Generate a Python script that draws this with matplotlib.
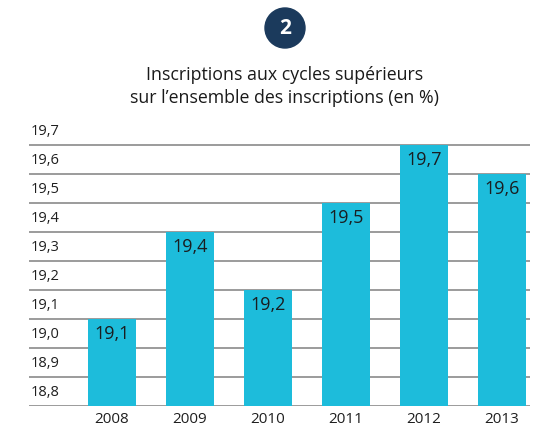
import matplotlib.pyplot as plt
from matplotlib.patches import Circle

years = ["2008", "2009", "2010", "2011", "2012", "2013"]
values = [19.1, 19.4, 19.2, 19.5, 19.7, 19.6]
y_ticks = [18.8, 18.9, 19.0, 19.1, 19.2, 19.3, 19.4, 19.5, 19.6, 19.7]

plt.rcParams['font.family'] = ['Open Sans', 'DejaVu Sans']

fig = plt.figure(figsize=(5.43, 4.29), dpi=100)
ax = fig.add_axes([0.0534, 0.0536, 0.9226, 0.676])

bar_color = "#1dbcdb"
x = list(range(len(years)))
base = 18.8
ax.bar(x, [v - base for v in values], bottom=base, width=0.615, color=bar_color, zorder=3)

# valeurs dans le haut des barres
for xi, v in zip(x, values):
    ax.text(xi, v - 0.052, f"{v:.1f}".replace(".", ","), ha="center", va="center",
            fontsize=13, color="#1a1d20", zorder=4)

# lignes de grille avec libellés au-dessus
for t in y_ticks:
    ax.axhline(t, color="#8a8a8a", lw=1.2, zorder=2)
    ax.text(-1.045, t + 0.048, f"{t:.1f}".replace(".", ","), ha="left", va="center",
            fontsize=10.5, color="#1f1f1f")

ax.set_xlim(-1.064, 5.359)
ax.set_ylim(18.8, 19.8)
ax.set_xticks(x)
ax.set_xticklabels(years, fontsize=11, color="#1f1f1f")
ax.tick_params(axis="x", length=0, pad=4)
ax.set_yticks([])
for s in ax.spines.values():
    s.set_visible(False)

fig.text(0.5245, 1 - 86.5 / 429, "Inscriptions aux cycles supérieurs\nsur l’ensemble des inscriptions (en %)",
         ha="center", va="center", fontsize=12.8, color="#1a1a1a", linespacing=1.3)

circ = Circle((0, 0), 0.20, color="#1b3a5c", transform=fig.dpi_scale_trans)
circ.center = (2.85, 4.29 - 0.28)
fig.patches.append(circ)
fig.text(285 / 543, 1 - 28 / 429, "2", ha="center", va="center", fontsize=15,
         fontweight="bold", color="white")

fig.savefig("out.png", dpi=100)
